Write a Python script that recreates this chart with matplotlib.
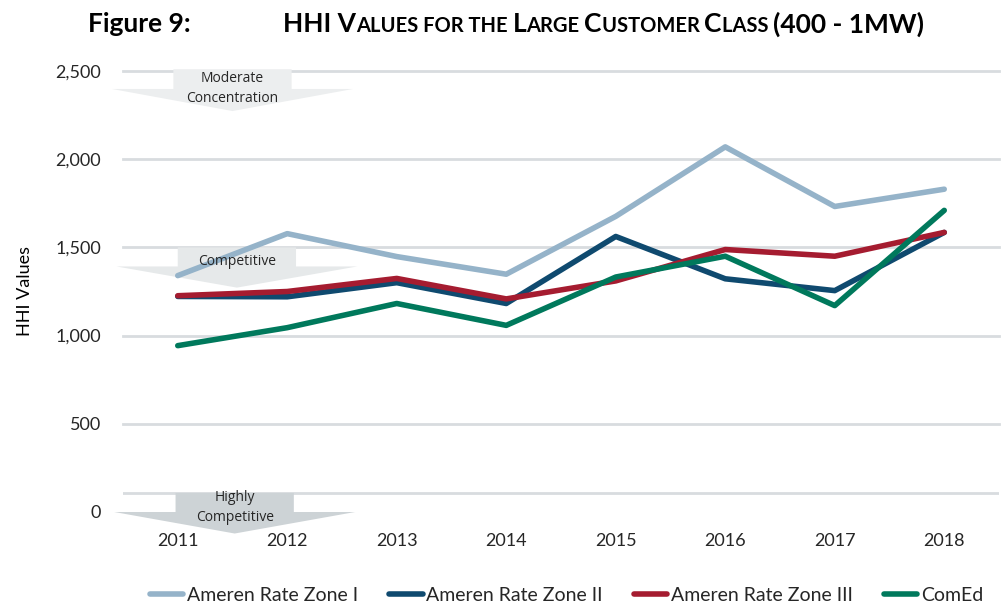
import matplotlib
matplotlib.use('Agg')
import matplotlib.pyplot as plt
from matplotlib.patches import Polygon
from matplotlib.offsetbox import TextArea, HPacker, AnchoredOffsetbox

plt.rcParams['font.family'] = ['Lato', 'DejaVu Sans']

years = ['2011', '2012', '2013', '2014', '2015', '2016', '2017', '2018']
ameren_1 = [1340, 1578, 1448, 1348, 1676, 2070, 1732, 1830]
ameren_2 = [1222, 1220, 1300, 1182, 1562, 1322, 1255, 1585]
ameren_3 = [1226, 1250, 1324, 1208, 1310, 1488, 1450, 1585]
comed = [943, 1045, 1182, 1058, 1332, 1450, 1170, 1710]

series_names = ['Ameren Rate Zone I', 'Ameren Rate Zone II', 'Ameren Rate Zone III', 'ComEd']
colors = ['#95b3c9', '#0f4a6f', '#a51c30', '#00795c']

fig = plt.figure(figsize=(10.03, 6.06), dpi=100)
ax = fig.add_axes([123 / 1003, 1 - 512 / 606, 876 / 1003, 441 / 606])

x = list(range(len(years)))

# grid lines
for v in [500, 1000, 1500, 2000, 2500]:
    ax.axhline(v, color='#d8dcdf', lw=2, zorder=1, clip_on=False)
ax.axhline(110, color='#d8dcdf', lw=2, zorder=1)


def band_arrow(cx, top, box_h, tip_h, color, lines, text_y):
    # block arrow pointing down, drawn in data units
    pts = [(cx - 0.54, top), (cx + 0.54, top), (cx + 0.54, top - box_h),
           (cx + 1.1, top - box_h), (cx, top - box_h - tip_h),
           (cx - 1.1, top - box_h), (cx - 0.54, top - box_h)]
    ax.add_patch(Polygon(pts, closed=True, facecolor=color, edgecolor='none',
                         zorder=2, clip_on=False))
    ax.text(cx, text_y, lines, ha='center', va='center', fontsize=10,
            color='#262626', zorder=5, linespacing=1.45,
            family=['Open Sans', 'DejaVu Sans'])


band_arrow(0.5, 2510, 112, 125, '#eceeef', 'Moderate\nConcentration', 2400)
band_arrow(0.54, 1500, 108, 120, '#e6e9ea', 'Competitive', 1420)
band_arrow(0.52, 108, 108, 122, '#cdd3d6', 'Highly\nCompetitive', 25)

data = [ameren_1, ameren_2, ameren_3, comed]
for vals, name, c in zip(data, series_names, colors):
    ax.plot(x, vals, color=c, lw=4, label=name, zorder=4, solid_capstyle='round')

ax.set_xlim(-0.5, 7.5)
ax.set_ylim(0, 2500)
ax.set_yticks([0, 500, 1000, 1500, 2000, 2500])
ax.set_yticklabels(['0', '500', '1,000', '1,500', '2,000', '2,500'])
ax.set_xticks(x)
ax.set_xticklabels(years)
ax.tick_params(axis='both', length=0, labelsize=13, colors='#262626')
ax.tick_params(axis='y', pad=16)
ax.tick_params(axis='x', pad=15)
for s in ax.spines.values():
    s.set_visible(False)
ax.set_ylabel('HHI Values', fontsize=13, color='#000000', labelpad=16)

leg = fig.legend(loc='lower center', bbox_to_anchor=(0.565, -0.025), ncol=4,
                 frameon=False, fontsize=14, handlelength=1.7, handletextpad=0.2,
                 columnspacing=1.6)
for t in leg.get_texts():
    t.set_color('#262626')

# title
fig.text(88 / 1003, 1 - 24 / 606, 'Figure 9:', fontsize=19, fontweight='bold',
         va='center', ha='left')
runs = [('HHI V', 19), ('ALUES FOR THE ', 14.5), ('L', 19), ('ARGE ', 14.5),
        ('C', 19), ('USTOMER ', 14.5), ('C', 19), ('LASS ', 14.5),
        ('(400 - 1MW)', 19)]
areas = [TextArea(s, textprops=dict(fontsize=sz, fontweight='bold', color='black'))
         for s, sz in runs]
pack = HPacker(children=areas, align='baseline', pad=0, sep=0)
ab = AnchoredOffsetbox(loc='center left', child=pack, pad=0, frameon=False,
                       bbox_to_anchor=(283 / 1003, 1 - 24 / 606),
                       bbox_transform=fig.transFigure, borderpad=0)
fig.add_artist(ab)

fig.savefig('out.png', dpi=100)
